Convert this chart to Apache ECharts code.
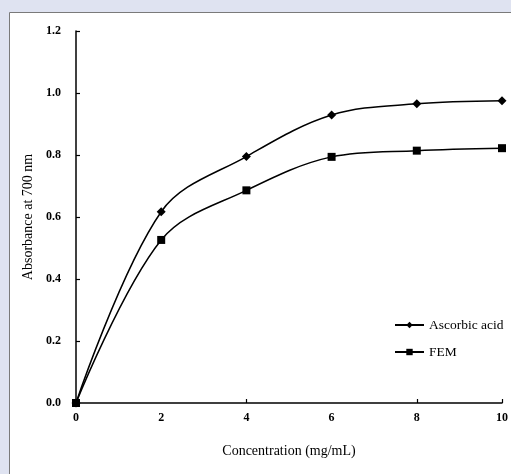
<!DOCTYPE html>
<html><head><meta charset="utf-8">
<script src="https://cdn.jsdelivr.net/npm/echarts@6/dist/echarts.min.js"></script>
<style>html,body{margin:0;padding:0;background:#dfe3f1;}#c{width:511px;height:474px;}</style>
</head><body><div id="c"></div>
<script>
const concentrations = [0, 2, 4, 6, 8, 10];
const ascorbicAcid = [0, 0.617, 0.795, 0.929, 0.965, 0.975];
const fem = [0, 0.526, 0.686, 0.794, 0.814, 0.822];
const seriesNames = ['Ascorbic acid', 'FEM'];

const chart = echarts.init(document.getElementById('c'));
const font = 'Liberation Serif, Times New Roman, serif';
chart.setOption({
  backgroundColor: '#dfe3f1',
  animation: false,
  graphic: [{type: 'rect', z: -10, shape: {x: 9.5, y: 12.5, width: 520, height: 480}, style: {fill: '#ffffff', stroke: '#7a7a7a', lineWidth: 1}}],
  grid: {left: 76, right: 6, top: 31, bottom: 71},
  legend: {
    orient: 'vertical', left: 394, top: 318, itemWidth: 29, itemHeight: 8, itemGap: 13, padding: 0,
    textStyle: {fontFamily: font, fontSize: 13.5, color: '#000'},
    data: seriesNames
  },
  xAxis: [{
    type: 'value', min: 0, max: 10, interval: 2,
    name: 'Concentration (mg/mL)', nameLocation: 'middle', nameGap: 41,
    nameTextStyle: {fontFamily: font, fontSize: 14, color: '#000'},
    axisLine: {lineStyle: {color: '#000', width: 1.5}},
    axisTick: {show: false},
    splitLine: {show: false},
    axisLabel: {fontFamily: font, fontSize: 12, fontWeight: 'bold', color: '#000', margin: 9}
  }, {
    type: 'value', min: 0, max: 10, interval: 4, position: 'bottom',
    axisLine: {show: false}, axisLabel: {show: false}, splitLine: {show: false},
    axisTick: {show: true, inside: true, length: 4, lineStyle: {color: '#000', width: 1.2}}
  }],
  yAxis: {
    type: 'value', min: 0, max: 1.2, interval: 0.2,
    name: 'Absorbance at 700 nm', nameLocation: 'middle', nameGap: 34,
    nameTextStyle: {fontFamily: font, fontSize: 14, color: '#000'},
    axisLine: {show: true, lineStyle: {color: '#000', width: 1.5}},
    axisTick: {show: true, inside: true, length: 4, lineStyle: {color: '#000', width: 1.2}},
    splitLine: {show: false},
    axisLabel: {fontFamily: font, fontSize: 12, fontWeight: 'bold', color: '#000', margin: 15,
      formatter: v => v.toFixed(1)}
  },
  series: [{
    name: seriesNames[0], type: 'line', smooth: 0.35,
    data: concentrations.map((x, i) => [x, ascorbicAcid[i]]),
    symbol: 'diamond', symbolSize: 9,
    lineStyle: {color: '#000', width: 1.5}, itemStyle: {color: '#000'}
  }, {
    name: seriesNames[1], type: 'line', smooth: 0.35,
    data: concentrations.map((x, i) => [x, fem[i]]),
    symbol: 'rect', symbolSize: 8,
    lineStyle: {color: '#000', width: 1.5}, itemStyle: {color: '#000'}
  }]
});
</script></body></html>
